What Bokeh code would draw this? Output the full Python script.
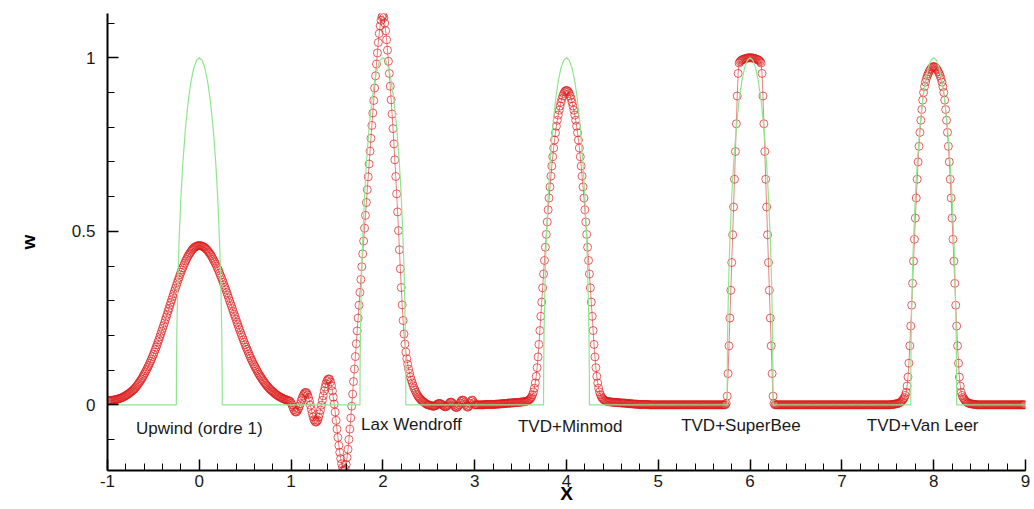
import numpy as np
from bokeh.plotting import figure
from bokeh.models import FixedTicker, Range1d, NumeralTickFormatter, ColumnDataSource
from bokeh.embed import file_html
from bokeh.resources import INLINE
from bokeh.core.properties import value

# ---------------- data ----------------
dx = 0.01

upwind_x0 = -1.0
upwind_w = [
    0.012, 0.012, 0.012, 0.012, 0.013, 0.013, 0.013, 0.014, 0.015, 0.015,
    0.016, 0.016, 0.017, 0.018, 0.019, 0.020, 0.021, 0.022, 0.024, 0.025,
    0.027, 0.028, 0.030, 0.032, 0.034, 0.036, 0.038, 0.040, 0.043, 0.045,
    0.048, 0.051, 0.055, 0.058, 0.062, 0.066, 0.070, 0.074, 0.078, 0.083,
    0.088, 0.093, 0.098, 0.103, 0.109, 0.114, 0.120, 0.126, 0.132, 0.139,
    0.145, 0.152, 0.159, 0.166, 0.173, 0.181, 0.188, 0.196, 0.204, 0.212,
    0.220, 0.228, 0.236, 0.245, 0.253, 0.261, 0.270, 0.278, 0.287, 0.295,
    0.303, 0.312, 0.320, 0.328, 0.336, 0.344, 0.352, 0.360, 0.367, 0.375,
    0.382, 0.389, 0.395, 0.402, 0.408, 0.414, 0.419, 0.425, 0.430, 0.434,
    0.438, 0.442, 0.446, 0.449, 0.452, 0.454, 0.456, 0.457, 0.458, 0.459,
    0.459, 0.459, 0.458, 0.457, 0.456, 0.455, 0.453, 0.450, 0.448, 0.445,
    0.441, 0.438, 0.434, 0.430, 0.425, 0.420, 0.415, 0.410, 0.405, 0.399,
    0.393, 0.387, 0.380, 0.373, 0.367, 0.360, 0.353, 0.345, 0.338, 0.331,
    0.323, 0.316, 0.308, 0.300, 0.292, 0.285, 0.277, 0.269, 0.261, 0.254,
    0.246, 0.238, 0.231, 0.223, 0.216, 0.208, 0.201, 0.194, 0.187, 0.180,
    0.173, 0.166, 0.160, 0.154, 0.147, 0.141, 0.135, 0.129, 0.124, 0.118,
    0.113, 0.108, 0.103, 0.098, 0.093, 0.088, 0.084, 0.080, 0.076, 0.072,
    0.068, 0.064, 0.061, 0.057, 0.054, 0.051, 0.048, 0.045, 0.043, 0.040,
    0.038, 0.036, 0.033, 0.031, 0.029, 0.027, 0.026, 0.024, 0.022, 0.021,
    0.020, 0.018, 0.017, 0.016, 0.015, 0.014, 0.013, 0.012, 0.011, 0.010,
]

laxw_x0 = 1.0
laxw_w = [
    0.005, 0.000, -0.007, -0.014, -0.019, -0.021, -0.020, -0.016, -0.011, -0.004,
    0.003, 0.012, 0.019, 0.026, 0.031, 0.035, 0.036, 0.034, 0.029, 0.021,
    0.011, -0.001, -0.013, -0.025, -0.035, -0.043, -0.048, -0.050, -0.048, -0.044,
    -0.036, -0.026, -0.015, -0.001, 0.013, 0.026, 0.040, 0.051, 0.061, 0.069,
    0.073, 0.075, 0.073, 0.066, 0.055, 0.040, 0.022, 0.002, -0.021, -0.045,
    -0.070, -0.094, -0.117, -0.137, -0.155, -0.170, -0.181, -0.188, -0.190, -0.185,
    -0.172, -0.152, -0.128, -0.100, -0.070, -0.038, -0.004, 0.031, 0.067, 0.103,
    0.139, 0.176, 0.213, 0.250, 0.287, 0.324, 0.361, 0.398, 0.435, 0.472,
    0.509, 0.546, 0.583, 0.620, 0.657, 0.694, 0.731, 0.768, 0.805, 0.841,
    0.877, 0.913, 0.948, 0.982, 1.014, 1.044, 1.070, 1.092, 1.108, 1.118,
    1.122, 1.116, 1.100, 1.078, 1.052, 1.022, 0.990, 0.955, 0.918, 0.879,
    0.838, 0.796, 0.752, 0.706, 0.658, 0.608, 0.556, 0.502, 0.447, 0.392,
    0.338, 0.288, 0.243, 0.204, 0.175, 0.152, 0.133, 0.117, 0.103, 0.091,
    0.080, 0.071, 0.063, 0.055, 0.048, 0.042, 0.036, 0.031, 0.026, 0.022,
    0.019, 0.016, 0.013, 0.011, 0.009, 0.007, 0.005, 0.003, 0.001, 0.000,
    0.000, -0.001, -0.002, -0.003, -0.004, -0.004, -0.004, -0.003, -0.001, 0.001,
    0.003, 0.004, 0.004, 0.003, 0.001, -0.001, -0.003, -0.005, -0.006, -0.005,
    -0.003, 0.000, 0.004, 0.007, 0.008, 0.007, 0.004, 0.000, -0.004, -0.007,
    -0.008, -0.007, -0.004, 0.000, 0.005, 0.010, 0.013, 0.014, 0.012, 0.007,
    0.001, -0.004, -0.007, -0.006, -0.002, 0.004, 0.010, 0.014, 0.012, 0.006,
]

minmod_x0 = 3.0
minmod_w = [
    0.000, 0.000, 0.000, 0.000, 0.000, 0.000, 0.000, 0.000, 0.000, 0.000,
    0.000, 0.001, 0.001, 0.001, 0.001, 0.001, 0.001, 0.001, 0.001, 0.001,
    0.001, 0.001, 0.001, 0.002, 0.002, 0.002, 0.002, 0.002, 0.003, 0.003,
    0.003, 0.003, 0.004, 0.004, 0.004, 0.004, 0.005, 0.005, 0.005, 0.005,
    0.005, 0.006, 0.006, 0.006, 0.006, 0.007, 0.007, 0.007, 0.007, 0.007,
    0.008, 0.008, 0.008, 0.009, 0.009, 0.009, 0.010, 0.011, 0.012, 0.014,
    0.016, 0.019, 0.023, 0.029, 0.037, 0.048, 0.063, 0.082, 0.107, 0.138,
    0.174, 0.214, 0.255, 0.296, 0.337, 0.377, 0.416, 0.454, 0.491, 0.527,
    0.562, 0.596, 0.628, 0.659, 0.688, 0.715, 0.740, 0.763, 0.784, 0.803,
    0.820, 0.835, 0.849, 0.861, 0.872, 0.882, 0.890, 0.897, 0.902, 0.905,
    0.906, 0.905, 0.902, 0.897, 0.890, 0.882, 0.872, 0.861, 0.849, 0.835,
    0.820, 0.803, 0.784, 0.763, 0.740, 0.715, 0.688, 0.659, 0.628, 0.596,
    0.562, 0.527, 0.491, 0.454, 0.416, 0.377, 0.337, 0.296, 0.255, 0.214,
    0.174, 0.138, 0.107, 0.082, 0.063, 0.048, 0.037, 0.029, 0.023, 0.019,
    0.016, 0.014, 0.012, 0.011, 0.010, 0.009, 0.009, 0.009, 0.008, 0.008,
    0.008, 0.007, 0.007, 0.007, 0.007, 0.007, 0.006, 0.006, 0.006, 0.006,
    0.005, 0.005, 0.005, 0.005, 0.005, 0.004, 0.004, 0.004, 0.004, 0.003,
    0.003, 0.003, 0.003, 0.002, 0.002, 0.002, 0.002, 0.002, 0.001, 0.001,
    0.001, 0.001, 0.001, 0.001, 0.001, 0.001, 0.001, 0.001, 0.001, 0.001,
    0.000, 0.000, 0.000, 0.000, 0.000, 0.000, 0.000, 0.000, 0.000, 0.000,
]

superbee_x0 = 5.0
superbee_w = [
    0, 0, 0, 0, 0, 0, 0, 0, 0, 0,
    0, 0, 0, 0, 0, 0, 0, 0, 0, 0,
    0, 0, 0, 0, 0, 0, 0, 0, 0, 0,
    0, 0, 0, 0, 0, 0, 0, 0, 0, 0,
    0, 0, 0, 0, 0, 0, 0, 0, 0, 0,
    0, 0, 0, 0, 0, 0, 0, 0, 0, 0,
    0, 0, 0, 0, 0, 0, 0, 0, 0, 0,
    0.000, 0.000, 0.000, 0.000, 0.004, 0.025, 0.090, 0.170, 0.250, 0.330,
    0.410, 0.490, 0.570, 0.650, 0.730, 0.810, 0.890, 0.955, 0.985, 0.989,
    0.992, 0.994, 0.995, 0.996, 0.997, 0.998, 0.999, 0.999, 1.000, 1.000,
    1.000, 1.000, 1.000, 0.999, 0.999, 0.998, 0.997, 0.996, 0.995, 0.994,
    0.992, 0.989, 0.985, 0.955, 0.890, 0.810, 0.730, 0.650, 0.570, 0.490,
    0.410, 0.330, 0.250, 0.170, 0.090, 0.025, 0.004, 0.000, 0.000, 0.000,
    0, 0, 0, 0, 0, 0, 0, 0, 0, 0,
    0, 0, 0, 0, 0, 0, 0, 0, 0, 0,
    0, 0, 0, 0, 0, 0, 0, 0, 0, 0,
    0, 0, 0, 0, 0, 0, 0, 0, 0, 0,
    0, 0, 0, 0, 0, 0, 0, 0, 0, 0,
    0, 0, 0, 0, 0, 0, 0, 0, 0, 0,
    0, 0, 0, 0, 0, 0, 0, 0, 0, 0,
]

vanleer_x0 = 7.0
vanleer_w = [
    0, 0, 0, 0, 0, 0, 0, 0, 0, 0,
    0, 0, 0, 0, 0, 0, 0, 0, 0, 0,
    0, 0, 0, 0, 0, 0, 0, 0, 0, 0,
    0, 0, 0, 0, 0, 0, 0, 0, 0, 0,
    0, 0, 0, 0, 0, 0, 0, 0, 0, 0,
    0.000, 0.000, 0.000, 0.000, 0.001, 0.001, 0.001, 0.002, 0.002, 0.003,
    0.003, 0.004, 0.005, 0.006, 0.008, 0.010, 0.013, 0.017, 0.021, 0.027,
    0.036, 0.054, 0.080, 0.120, 0.170, 0.227, 0.287, 0.350, 0.414, 0.477,
    0.538, 0.596, 0.650, 0.700, 0.745, 0.785, 0.820, 0.851, 0.878, 0.900,
    0.917, 0.930, 0.940, 0.948, 0.954, 0.960, 0.965, 0.969, 0.972, 0.974,
    0.975, 0.974, 0.972, 0.969, 0.965, 0.960, 0.954, 0.948, 0.940, 0.930,
    0.917, 0.900, 0.878, 0.851, 0.820, 0.785, 0.745, 0.700, 0.650, 0.596,
    0.538, 0.477, 0.414, 0.350, 0.287, 0.227, 0.170, 0.120, 0.080, 0.054,
    0.036, 0.027, 0.021, 0.017, 0.013, 0.010, 0.008, 0.006, 0.005, 0.004,
    0.003, 0.003, 0.002, 0.002, 0.001, 0.001, 0.001, 0.000, 0.000, 0.000,
    0, 0, 0, 0, 0, 0, 0, 0, 0, 0,
    0, 0, 0, 0, 0, 0, 0, 0, 0, 0,
    0, 0, 0, 0, 0, 0, 0, 0, 0, 0,
    0, 0, 0, 0, 0, 0, 0, 0, 0, 0,
    0, 0, 0, 0, 0, 0, 0, 0, 0, 0,
]

# exact solution: one pulse shape (offset from centre, value), repeated at each centre
exact_centres = [0.0, 2.0, 4.0, 6.0, 8.0]
exact_offsets = [-0.25, -0.249, -0.245, -0.24, -0.23, -0.22, -0.2, -0.18, -0.15, -0.12,
                 -0.09, -0.06, -0.03, 0.0, 0.03, 0.06, 0.09, 0.12, 0.15, 0.18,
                 0.2, 0.22, 0.23, 0.24, 0.245, 0.249, 0.25]
exact_values = [0.0, 0.089, 0.199, 0.28, 0.392, 0.475, 0.6, 0.694, 0.8, 0.877,
                0.933, 0.971, 0.993, 1.0, 0.993, 0.971, 0.933, 0.877, 0.8, 0.694,
                0.6, 0.475, 0.392, 0.28, 0.199, 0.089, 0.0]

scheme_names = ["Upwind (ordre 1)", "Lax Wendroff", "TVD+Minmod", "TVD+SuperBee", "TVD+Van Leer"]
x_ticks = [-1, 0, 1, 2, 3, 4, 5, 6, 7, 8, 9]
y_ticks = [0, 0.5, 1]

# ---------------- assemble ----------------
xs, ws = [], []
for x0, w in [(upwind_x0, upwind_w), (laxw_x0, laxw_w), (minmod_x0, minmod_w),
              (superbee_x0, superbee_w), (vanleer_x0, vanleer_w)]:
    xs.append(x0 + dx * np.arange(len(w)))
    ws.append(np.array(w, dtype=float))
num_x = np.concatenate(xs)
num_w = np.concatenate(ws)

gx, gy = [-1.0], [0.0]
for c in exact_centres:
    gx += [c + o for o in exact_offsets]
    gy += exact_values
gx.append(9.0)
gy.append(0.0)

# ---------------- figure ----------------
FONT = "Liberation Sans"
p = figure(width=1034, height=509,
           x_range=Range1d(-1, 9), y_range=Range1d(-0.1893, 1.1277),
           output_backend="svg", toolbar_location=None,
           min_border_left=107, min_border_right=9, min_border_top=13, min_border_bottom=39)
p.outline_line_color = None
p.xgrid.grid_line_color = None
p.ygrid.grid_line_color = None
p.background_fill_color = "white"
p.border_fill_color = "white"

red = "#dd1c1c"
p.line(num_x, num_w, line_color=red, line_alpha=0.55, line_width=1)
p.scatter(num_x, num_w, marker="circle", size=8, fill_color=None,
          line_color=red, line_alpha=0.7, line_width=1)
p.line(gx, gy, line_color="#8fe68f", line_width=1.2)

lab_x = [0.0, 2.31, 4.04, 5.90, 7.88]
lab_y = [-0.068, -0.056, -0.063, -0.060, -0.060]
src = ColumnDataSource(dict(x=lab_x, y=lab_y, t=scheme_names))
p.text(x="x", y="y", text="t", source=src, text_align="center", text_baseline="middle",
       text_font=value(FONT), text_font_size="17px", text_color="#1a1a1a")

xa = p.xaxis[0]
xa.ticker = FixedTicker(ticks=x_ticks, minor_ticks=[round(-1 + 0.2 * i, 2) for i in range(51)])
xa.formatter = NumeralTickFormatter(format="0")
ya = p.yaxis[0]
ya.ticker = FixedTicker(ticks=y_ticks, minor_ticks=[round(-0.1 + 0.1 * i, 2) for i in range(13)])
ya.formatter = NumeralTickFormatter(format="0.[0]")

for ax in (xa, ya):
    ax.axis_line_width = 2
    ax.axis_line_color = "black"
    ax.major_tick_in = 11
    ax.major_tick_out = 0
    ax.minor_tick_in = 7
    ax.minor_tick_out = 0
    ax.major_tick_line_width = 1.5
    ax.minor_tick_line_width = 1
    ax.major_tick_line_color = "black"
    ax.minor_tick_line_color = "black"
    ax.major_label_text_font = FONT
    ax.major_label_text_font_size = "17px"
    ax.major_label_text_color = "#1a1a1a"
    ax.axis_label_text_font = FONT
    ax.axis_label_text_font_style = "bold"
    ax.axis_label_text_font_size = "19px"
    ax.axis_label_text_color = "black"

xa.major_label_standoff = 4
xa.axis_label = "X"
xa.axis_label_standoff = -7
ya.major_label_standoff = 12
ya.axis_label = "w"
ya.axis_label_standoff = 30

open("out.html", "w").write(file_html(p, INLINE))
